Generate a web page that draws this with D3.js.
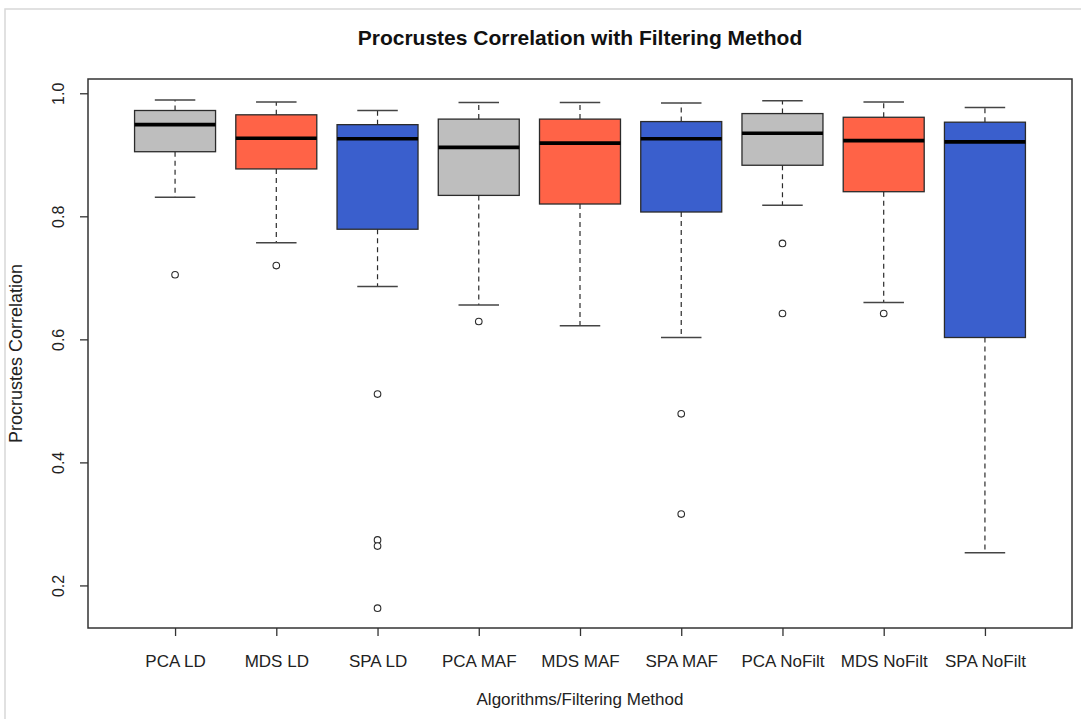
<!DOCTYPE html>
<html>
<head>
<meta charset="utf-8">
<script src="https://cdn.jsdelivr.net/npm/d3@7"></script>
<style>
  html, body { margin: 0; padding: 0; background: #fff; }
  svg { display: block; font-family: "Liberation Sans", Arial, sans-serif; }
</style>
</head>
<body>
<svg id="chart" width="1081" height="719"></svg>
<script>
// Groups (algorithm + filtering method)
const categories = ["PCA LD", "MDS LD", "SPA LD", "PCA MAF", "MDS MAF", "SPA MAF", "PCA NoFilt", "MDS NoFilt", "SPA NoFilt"];
const fills = ["#BEBEBE", "#FF6347", "#3A5FCD", "#BEBEBE", "#FF6347", "#3A5FCD", "#BEBEBE", "#FF6347", "#3A5FCD"];

// Five-number summaries per group
const whiskerHigh = [0.989, 0.986, 0.972, 0.985, 0.985, 0.984, 0.988, 0.986, 0.977];
const upperQuartile = [0.972, 0.965, 0.949, 0.958, 0.958, 0.954, 0.967, 0.961, 0.953];
const medians = [0.949, 0.927, 0.926, 0.912, 0.919, 0.926, 0.935, 0.923, 0.921];
const lowerQuartile = [0.905, 0.877, 0.779, 0.834, 0.820, 0.807, 0.883, 0.840, 0.603];
const whiskerLow = [0.831, 0.757, 0.686, 0.656, 0.622, 0.603, 0.818, 0.660, 0.253];

// Points beyond the whiskers
const outliers = [
  [0.705],
  [0.720],
  [0.511, 0.274, 0.264, 0.163],
  [0.629],
  [],
  [0.479, 0.316],
  [0.756, 0.642],
  [0.642],
  []
];

const yTicks = [0.2, 0.4, 0.6, 0.8, 1.0];
const yTickLabels = ["0.2", "0.4", "0.6", "0.8", "1.0"];

const svg = d3.select("#chart");
const plot = { left: 88, right: 1072, top: 79, bottom: 628 };

// Frame line around the figure
svg.append("path")
  .attr("d", `M5,719 V9 H1081`)
  .attr("fill", "none")
  .attr("stroke", "#d8d8d8")
  .attr("stroke-width", 1.5);

const x = d3.scaleLinear().domain([0.14, 9.86]).range([plot.left, plot.right]);
const y = d3.scaleLinear().domain([0.1308, 1.0232]).range([plot.bottom, plot.top]);

const boxHalf = 0.4;   // in group units
const capHalf = 0.2;
const ink = "#2b2b2b";

const groups = svg.append("g").selectAll("g.box")
  .data(categories.map((c, i) => ({
    c, i, pos: i + 1, fill: fills[i],
    hi: whiskerHigh[i], q3: upperQuartile[i], med: medians[i],
    q1: lowerQuartile[i], lo: whiskerLow[i], out: outliers[i]
  })))
  .join("g").attr("class", "box");

// dashed whiskers
groups.append("line")
  .attr("x1", d => x(d.pos)).attr("x2", d => x(d.pos))
  .attr("y1", d => y(d.q3)).attr("y2", d => y(d.hi))
  .attr("stroke", ink).attr("stroke-width", 1.2).attr("stroke-dasharray", "5,4");
groups.append("line")
  .attr("x1", d => x(d.pos)).attr("x2", d => x(d.pos))
  .attr("y1", d => y(d.q1)).attr("y2", d => y(d.lo))
  .attr("stroke", ink).attr("stroke-width", 1.2).attr("stroke-dasharray", "5,4");

// staples
groups.append("line")
  .attr("x1", d => x(d.pos - capHalf)).attr("x2", d => x(d.pos + capHalf))
  .attr("y1", d => y(d.hi)).attr("y2", d => y(d.hi))
  .attr("stroke", "#444").attr("stroke-width", 1.5);
groups.append("line")
  .attr("x1", d => x(d.pos - capHalf)).attr("x2", d => x(d.pos + capHalf))
  .attr("y1", d => y(d.lo)).attr("y2", d => y(d.lo))
  .attr("stroke", "#444").attr("stroke-width", 1.5);

// boxes
groups.append("rect")
  .attr("x", d => x(d.pos - boxHalf))
  .attr("width", d => x(d.pos + boxHalf) - x(d.pos - boxHalf))
  .attr("y", d => y(d.q3))
  .attr("height", d => y(d.q1) - y(d.q3))
  .attr("fill", d => d.fill)
  .attr("stroke", ink).attr("stroke-width", 1.3);

// medians
groups.append("line")
  .attr("x1", d => x(d.pos - boxHalf)).attr("x2", d => x(d.pos + boxHalf))
  .attr("y1", d => y(d.med)).attr("y2", d => y(d.med))
  .attr("stroke", "#000").attr("stroke-width", 3.6);

// outliers
groups.selectAll("circle")
  .data(d => d.out.map(v => ({ pos: d.pos, v })))
  .join("circle")
  .attr("cx", d => x(d.pos)).attr("cy", d => y(d.v))
  .attr("r", 3.3)
  .attr("fill", "#fff").attr("stroke", ink).attr("stroke-width", 1.1);

// plot frame
svg.append("rect")
  .attr("x", plot.left).attr("y", plot.top)
  .attr("width", plot.right - plot.left).attr("height", plot.bottom - plot.top)
  .attr("fill", "none").attr("stroke", "#333").attr("stroke-width", 1.5);

// y axis
const yAxis = svg.append("g")
  .attr("transform", `translate(${plot.left},0)`)
  .call(d3.axisLeft(y).tickValues(yTicks).tickFormat((d, i) => yTickLabels[i]).tickSize(8));
yAxis.select(".domain").remove();
yAxis.selectAll(".tick line").attr("stroke", "#333").attr("stroke-width", 1.3);
yAxis.selectAll(".tick text")
  .attr("transform", "rotate(-90)")
  .attr("x", 0).attr("y", -24).attr("dy", 0)
  .attr("text-anchor", "middle")
  .attr("fill", "#222")
  .style("font-size", "16px")
  .style("font-family", "\"Liberation Sans\", Arial, sans-serif");

// x axis
const xAxis = svg.append("g")
  .attr("transform", `translate(0,${plot.bottom})`)
  .call(d3.axisBottom(x).tickValues(categories.map((c, i) => i + 1)).tickFormat((d) => categories[d - 1]).tickSize(8));
xAxis.select(".domain").remove();
xAxis.selectAll(".tick line").attr("stroke", "#333").attr("stroke-width", 1.3);
xAxis.selectAll(".tick text")
  .attr("y", 39).attr("dy", 0)
  .attr("fill", "#222")
  .style("font-size", "17px")
  .style("font-family", "\"Liberation Sans\", Arial, sans-serif");

// titles
svg.append("text")
  .attr("x", (plot.left + plot.right) / 2).attr("y", 45)
  .attr("text-anchor", "middle")
  .style("font-size", "21px").style("font-weight", "bold")
  .attr("fill", "#111")
  .text("Procrustes Correlation with Filtering Method");

svg.append("text")
  .attr("x", (plot.left + plot.right) / 2).attr("y", 705)
  .attr("text-anchor", "middle")
  .style("font-size", "17px")
  .attr("fill", "#222")
  .text("Algorithms/Filtering Method");

svg.append("text")
  .attr("transform", `translate(22,${(plot.top + plot.bottom) / 2}) rotate(-90)`)
  .attr("text-anchor", "middle")
  .style("font-size", "18px")
  .attr("fill", "#222")
  .text("Procrustes Correlation");
</script>
</body>
</html>
